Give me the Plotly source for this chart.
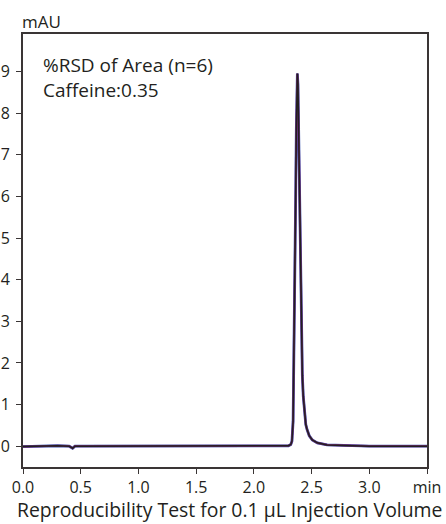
import plotly.graph_objects as go

# Chromatogram (retention time in min, absorbance in mAU)
time_min = [0.00, 0.10, 0.20, 0.30, 0.40, 0.43, 0.45, 0.50, 0.70, 1.00, 1.30, 1.60,
            1.90, 2.10, 2.25, 2.30, 2.320, 2.330, 2.340, 2.350, 2.356, 2.362, 2.368,
            2.374, 2.377, 2.382, 2.388, 2.396, 2.404, 2.411, 2.420, 2.428, 2.440,
            2.450, 2.461, 2.480, 2.506, 2.550, 2.634, 2.800, 3.000, 3.200, 3.500]
absorb_mau = [-0.01, 0.00, 0.00, 0.01, 0.00, -0.05, 0.00, 0.00, 0.00, 0.00, 0.00, 0.00,
              0.00, 0.00, 0.00, 0.01, 0.04, 0.12, 0.60, 2.50, 4.20, 5.90, 7.60,
              8.80, 8.95, 8.70, 7.60, 5.90, 3.90, 2.50, 1.70, 1.20, 0.75,
              0.52, 0.40, 0.25, 0.15, 0.08, 0.03, 0.01, 0.00, 0.00, 0.00]

x_ticks = [0.0, 0.5, 1.0, 1.5, 2.0, 2.5, 3.0, 3.5]
x_ticktext = ["0.0", "0.5", "1.0", "1.5", "2.0", "2.5", "3.0", "min"]
y_ticks = [0, 1, 2, 3, 4, 5, 6, 7, 8, 9]

overlay_colors = ["#3b56b0", "#7a2c7a", "#231f20"]
overlay_widths = [2.8, 2.2, 1.5]

TXT = "#231f20"
FONT = "Open Sans"

fig = go.Figure()
for c, w in zip(overlay_colors, overlay_widths):
    fig.add_trace(go.Scatter(x=time_min, y=absorb_mau, mode="lines",
                             line=dict(color=c, width=w), showlegend=False,
                             hoverinfo="skip"))

axis_common = dict(showline=True, linecolor="#3a3535", linewidth=1.6, mirror=True,
                   ticks="outside", ticklen=5, tickwidth=1.4, tickcolor="#3a3535",
                   showgrid=False, zeroline=False, automargin=False,
                   tickfont=dict(family=FONT, size=16, color=TXT))

fig.update_layout(
    width=446, height=524,
    margin=dict(l=23, r=19, t=34, b=57),
    plot_bgcolor="white", paper_bgcolor="white",
    xaxis=dict(range=[0, 3.5], tickvals=x_ticks, ticktext=x_ticktext, **axis_common),
    yaxis=dict(range=[-0.5, 9.9], tickvals=y_ticks, ticklabelstandoff=3, **axis_common),
    annotations=[
        dict(text="mAU", xref="paper", yref="paper", x=-0.008, y=1.0, yshift=13,
             xanchor="left", yanchor="middle", showarrow=False,
             font=dict(family=FONT, size=17, color=TXT)),
        dict(text="%RSD of Area (n=6)<br>Caffeine:0.35", xref="paper", yref="paper",
             x=0.045, y=0.962, xanchor="left", yanchor="top", align="left",
             showarrow=False, font=dict(family=FONT, size=19, color=TXT)),
        dict(text="Reproducibility Test for 0.1 μL Injection Volume", xref="paper",
             yref="paper", x=0.51, y=-0.098, xanchor="center", yanchor="middle",
             showarrow=False, font=dict(family=FONT, size=19.4, color=TXT)),
    ],
)

fig.write_html("out.html", config={"displayModeBar": False},
               post_script="document.body.style.margin='0';document.body.style.padding='0';")
